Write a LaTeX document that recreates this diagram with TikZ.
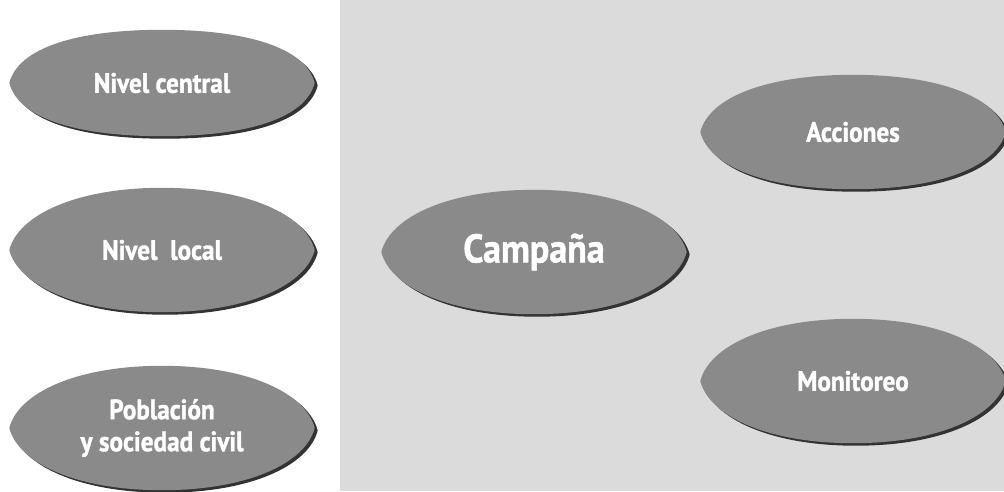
\documentclass[tikz,border=0pt]{standalone}
\usepackage{fontspec}
\newfontfamily\labelfont{PT Sans}[FakeStretch=0.9, BoldFeatures={FakeBold=1.2}]
\usetikzlibrary{shapes.geometric,backgrounds}

% lens-shaped outline round a node
\newcommand{\lens}[1]{(#1.west) .. controls +(9,-35) and +(-86,0) .. (#1.north)
  .. controls +(86,0) and +(-9,-35) .. (#1.east)
  .. controls +(-9,35) and +(86,0) .. (#1.south)
  .. controls +(-86,0) and +(9,35) .. (#1.west) -- cycle}

\tikzset{
  bubble/.style={ellipse, minimum width=305pt, minimum height=124pt,
    inner sep=0pt, text=white, align=center,
    font=\labelfont\bfseries\fontsize{28}{32}\selectfont},
  bigbubble/.style={bubble, font=\labelfont\bfseries\fontsize{40}{44}\selectfont},
  lensfill/.style={fill=black!46},
  lensshadow/.style={fill=black!80, transform canvas={shift={(3pt,-2.5pt)}}},
}

\begin{document}
\begin{tikzpicture}[x=1pt,y=-1pt]

\useasboundingbox (0,0) rectangle (1004,491);

\node[bubble, minimum height=106pt] (central) at (162,83) {Nivel central};
\node[bubble] (local) at (162,250) {Nivel\ \ local};
\node[bubble] (poblacion) at (162,428) {Población\\y sociedad civil};

\node[bigbubble] (campana) at (534,252) {Campaña};

\node[bubble, minimum height=114pt] (acciones) at (853,132) {Acciones};
\node[bubble] (monitoreo) at (853,381) {Monitoreo};

\begin{scope}[on background layer]
% background: white sheet and the photo on the right
\fill[white] (0,0) rectangle (1004,491);
\fill[black!14] (340,0) rectangle (1004,491);
\foreach \n in {central,local,poblacion,campana,acciones,monitoreo} {
  \fill[lensshadow] \lens{\n};
  \fill[lensfill] \lens{\n};
}
\end{scope}

\end{tikzpicture}
\end{document}
